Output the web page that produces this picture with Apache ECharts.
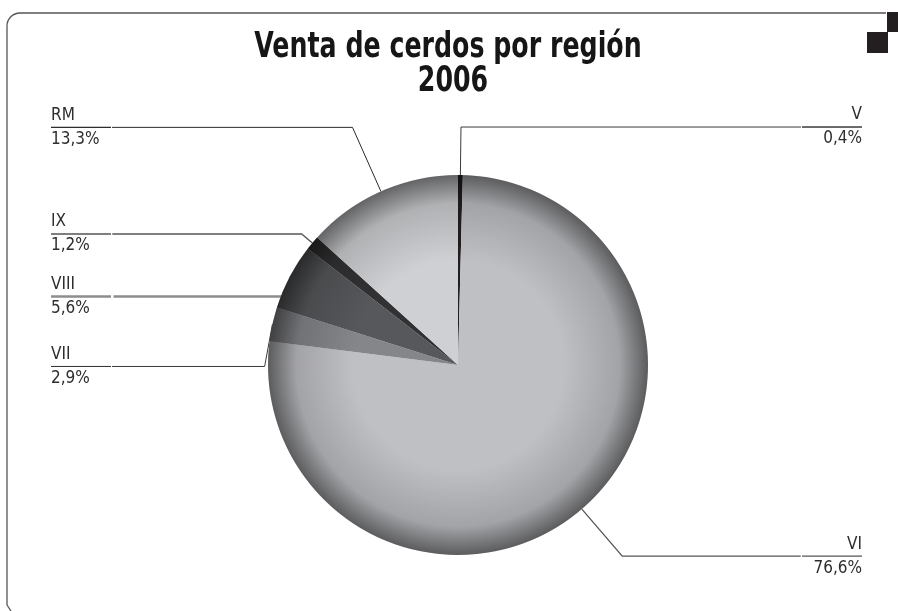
<!DOCTYPE html>
<html><head><meta charset="utf-8">
<script src="https://cdn.jsdelivr.net/npm/echarts@6/dist/echarts.min.js"></script>
<style>html,body{margin:0;padding:0;background:#fff}#c{width:898px;height:611px}</style>
</head><body><div id="c"></div>
<script>
// ---- data ----
const titleLine1 = 'Venta de cerdos por región';
const titleLine2 = '2006';
const categories = ['V', 'VI', 'VII', 'VIII', 'IX', 'RM'];
const values = [0.4, 76.6, 2.9, 5.6, 1.2, 13.3];

// ---- styles (kept apart from the data) ----
const FONT = '"Liberation Sans Narrow", "DejaVu Sans Condensed", "Roboto", sans-serif';
const sliceStyle = {
  'V':    { color: '#231f20', len: 48, line: '#3a3a3a', lw: 1, pad: 0 },
  'VI':   { color: '#bfc0c4', len: 62, line: '#555555', lw: 1.3, pad: 0 },
  'VII':  { color: '#85868a', len: 8,  line: '#3a3a3a', lw: 1, pad: 4 },
  'VIII': { color: '#57585b', len: -40, line: '#8d8d8d', lw: 2.5, pad: 16 },
  'IX':   { color: '#323234', len: 14, line: '#555555', lw: 1.3, pad: 0 },
  'RM':   { color: '#cfd0d3', len: 70, line: '#2a2a2a', lw: 1, pad: 0 }
};
function fmt(v) { return String(v).replace('.', ',') + '%'; }
function richFor(lineColor, lineWidth, pad) {
  return {
    n: { fontFamily: FONT, fontSize: 17, lineHeight: 24, color: '#2e2e2e' },
    hr: { width: '100%', height: 0, borderWidth: lineWidth, borderColor: lineColor },
    p: { fontFamily: FONT, fontSize: 17, lineHeight: 24, color: '#2e2e2e' },
    s: { fontSize: 1, lineHeight: pad, height: pad }
  };
}
function labelText(p) {
  const body = '{n|' + p.name + '}\n{hr|}\n{p|' + fmt(p.value) + '}';
  return sliceStyle[p.name].pad > 0 ? '{s| }\n' + body + '\n{s| }' : body;
}

const chart = echarts.init(document.getElementById('c'), null, { renderer: 'canvas' });
const pieData = categories.map((c, i) => {
  const s = sliceStyle[c];
  return {
    name: c,
    value: values[i],
    itemStyle: { color: s.color },
    label: { rich: richFor(s.line, s.lw, s.pad) },
    labelLine: { length: s.len, lineStyle: { color: s.line, width: s.lw } }
  };
});

const titleStyle = { fontFamily: FONT, fontWeight: 'bold', fontSize: 36, fill: '#161616', align: 'center', verticalAlign: 'top' };
const option = {
  animation: false,
  graphic: [
    { type: 'text', silent: true, x: 448, y: 30, scaleX: 0.78, style: Object.assign({ text: titleLine1 }, titleStyle) },
    { type: 'text', silent: true, x: 453, y: 64, scaleX: 0.78, style: Object.assign({ text: titleLine2 }, titleStyle) },
    { type: 'line', silent: true, shape: { x1: 20, y1: 13, x2: 886, y2: 13 }, style: { stroke: '#555', lineWidth: 1.3 } },
    { type: 'arc', silent: true, shape: { cx: 20, cy: 26, r: 13, startAngle: Math.PI, endAngle: Math.PI * 1.5 }, style: { stroke: '#555', lineWidth: 1.3, fill: null } },
    { type: 'line', silent: true, shape: { x1: 7, y1: 26, x2: 7, y2: 605 }, style: { stroke: '#555', lineWidth: 1.3 } },
    { type: 'line', silent: true, shape: { x1: 7, y1: 605, x2: 11, y2: 611 }, style: { stroke: '#555', lineWidth: 1.3 } },
    { type: 'rect', silent: true, shape: { x: 887, y: 12, width: 11, height: 20 }, style: { fill: '#231f20' } },
    { type: 'rect', silent: true, shape: { x: 867, y: 32, width: 21, height: 21 }, style: { fill: '#231f20' } }
  ],
  series: [
    {
      type: 'pie',
      z: 2,
      left: 51, right: 36, top: 0, bottom: 0,
      center: [407, 365],
      radius: [0, 190],
      startAngle: 90,
      clockwise: true,
      silent: true,
      avoidLabelOverlap: true,
      label: {
        show: true,
        position: 'outside',
        alignTo: 'edge',
        edgeDistance: 0,
        distanceToLabelLine: 0,
        width: 60,
        formatter: labelText,
        rich: richFor('#333', 1, 0)
      },
      labelLine: { show: true, smooth: false, minTurnAngle: 0, maxSurfaceAngle: 180 },
      data: pieData
    },
    {
      type: 'pie',
      z: 3,
      left: 51, right: 36, top: 0, bottom: 0,
      center: [407, 365],
      radius: [0, 190],
      silent: true,
      label: { show: false },
      labelLine: { show: false },
      data: [{
        value: 1,
        itemStyle: {
          color: {
            type: 'radial', x: 0.5, y: 0.5, r: 0.5,
            colorStops: [
              { offset: 0, color: 'rgba(0,0,0,0)' },
              { offset: 0.55, color: 'rgba(0,0,0,0)' },
              { offset: 0.85, color: 'rgba(0,0,0,0.15)' },
              { offset: 1, color: 'rgba(0,0,0,0.52)' }
            ]
          }
        }
      }]
    }
  ]
};
chart.setOption(option);
</script>
</body></html>
